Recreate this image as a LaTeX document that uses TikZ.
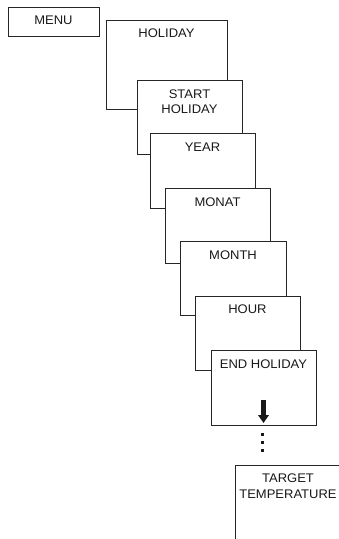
\documentclass[tikz,border=0pt]{standalone}
\usepackage{fontspec}
\setmainfont{Liberation Sans}[FakeStretch=1.04]
\usetikzlibrary{arrows.meta}
\begin{document}
\begin{tikzpicture}[x=1pt,y=-1pt,
  box/.style={draw=black!85,line width=0.9pt,fill=white,anchor=north west,inner sep=0pt,outer sep=0pt},
  txt/.style={font=\fontsize{12.5}{15.5}\selectfont,align=center,anchor=north,inner sep=0pt,text=black!90},
  dotsq/.style={fill=black!90,inner sep=0pt,minimum size=3pt},
  bigarrow/.style={draw=black!90,line width=4.5pt,-{Triangle[width=10.5pt,length=8pt]}}]
\useasboundingbox (0,0) rectangle (338,539);
% MENU
\node[box,minimum width=91pt,minimum height=29pt] (menu) at (8,7) {};
\node[txt] (menut) at (53.5,16) {MENU};
% HOLIDAY
\node[box,minimum width=121pt,minimum height=89pt] (holiday) at (106,20) {};
\node[txt] (holidayt) at (166.5,28.5) {HOLIDAY};
% START HOLIDAY
\node[box,minimum width=105pt,minimum height=74pt] (start) at (137,80) {};
\node[txt] (startt) at (189.5,89.5) {START\\HOLIDAY};
% YEAR
\node[box,minimum width=105pt,minimum height=75pt] (year) at (150,133) {};
\node[txt] (yeart) at (202.5,143) {YEAR};
% MONAT
\node[box,minimum width=105pt,minimum height=75pt] (monat) at (165,188) {};
\node[txt] (monatt) at (217.5,197.5) {MONAT};
% MONTH
\node[box,minimum width=106pt,minimum height=74pt] (month) at (180,241) {};
\node[txt] (montht) at (233,250.5) {MONTH};
% HOUR
\node[box,minimum width=105pt,minimum height=74pt] (hour) at (195,296) {};
\node[txt] (hourt) at (247.5,305) {HOUR};
% END HOLIDAY
\node[box,minimum width=105pt,minimum height=75pt] (endh) at (211,350) {};
\node[txt] (endht) at (263.5,360) {END HOLIDAY};
\coordinate (arrtop) at (263.5,400);
\coordinate (arrtip) at (263.5,423);
\draw[bigarrow] (arrtop) -- (arrtip);
% dots
\node[dotsq] (d1) at (262.5,434) {};
\node[dotsq] (d2) at (262.5,442) {};
\node[dotsq] (d3) at (262.5,450) {};
% TARGET TEMPERATURE
\node[box,minimum width=105pt,minimum height=76pt] (target) at (235.5,465) {};
\node[txt] (targett) at (288,474) {TARGET\\TEMPERATURE};
\end{tikzpicture}
\end{document}
